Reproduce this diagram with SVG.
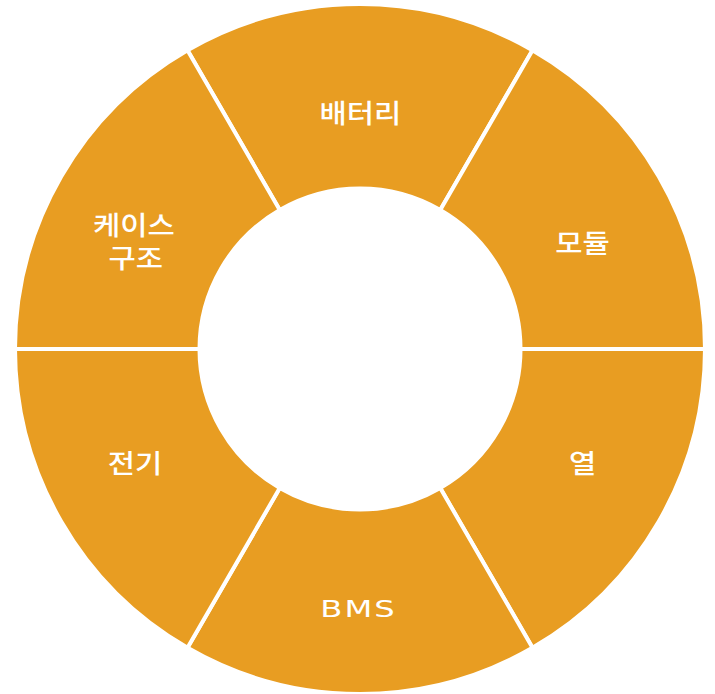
<svg xmlns="http://www.w3.org/2000/svg" width="715" height="694" viewBox="0 0 715 694">
<style>
.seg{fill:#E89D22;stroke:#FFFFFF;stroke-width:4;stroke-linejoin:miter}
.lbl{fill:#FFFFFF;font-family:"Noto Sans CJK KR","Noto Sans",sans-serif;font-size:26px;font-weight:500;text-anchor:middle}
.lat{font-family:"DejaVu Sans","Noto Sans",sans-serif;font-size:23px;font-weight:400;letter-spacing:1.5px}
</style>
<rect width="715" height="694" fill="#FFFFFF"/>
<g id="seg-battery">
<path class="seg" d="M532.5 50.22 A345 345 0 0 0 187.5 50.22 L279.75 210 A160.5 160.5 0 0 1 440.25 210 Z"/>
<text class="lbl" transform="translate(360.5 123) scale(1.14 1)">배터리</text>
</g>
<g id="seg-module">
<path class="seg" d="M705 349 A345 345 0 0 0 532.5 50.22 L440.25 210 A160.5 160.5 0 0 1 520.5 349 Z"/>
<text class="lbl" transform="translate(582.5 253) scale(1.14 1)">모듈</text>
</g>
<g id="seg-heat">
<path class="seg" d="M532.5 647.78 A345 345 0 0 0 705 349 L520.5 349 A160.5 160.5 0 0 1 440.25 488 Z"/>
<text class="lbl" transform="translate(582.5 473) scale(1.14 1)">열</text>
</g>
<g id="seg-bms">
<path class="seg" d="M187.5 647.78 A345 345 0 0 0 532.5 647.78 L440.25 488 A160.5 160.5 0 0 1 279.75 488 Z"/>
<text class="lbl lat" transform="translate(358.5 617) scale(1.4 1)">BMS</text>
</g>
<g id="seg-electric">
<path class="seg" d="M15 349 A345 345 0 0 0 187.5 647.78 L279.75 488 A160.5 160.5 0 0 1 199.5 349 Z"/>
<text class="lbl" transform="translate(135 473) scale(1.14 1)">전기</text>
</g>
<g id="seg-case">
<path class="seg" d="M187.5 50.22 A345 345 0 0 0 15 349 L199.5 349 A160.5 160.5 0 0 1 279.75 210 Z"/>
<text class="lbl" transform="translate(134 235) scale(1.14 1)"><tspan x="0" y="0">케이스</tspan><tspan x="1.5" y="33">구조</tspan></text>
</g>
<g id="connectors"></g>
</svg>
